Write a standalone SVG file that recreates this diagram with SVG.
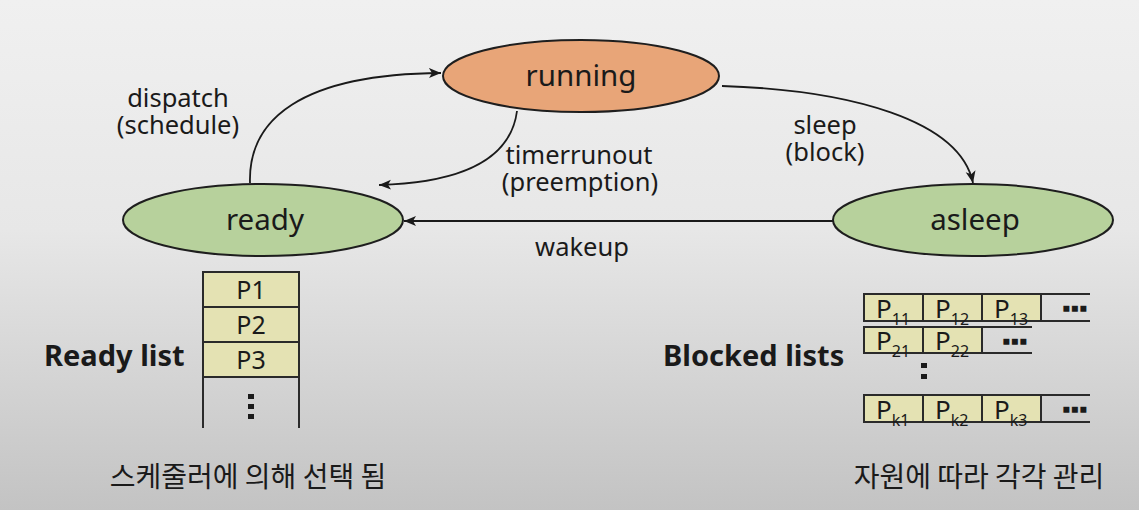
<svg xmlns="http://www.w3.org/2000/svg" width="1139" height="510" viewBox="0 0 1139 510">
<defs>
<linearGradient id="bg" x1="0" y1="0" x2="0" y2="1">
<stop offset="0" stop-color="#f0f0f0"/>
<stop offset="0.45" stop-color="#e7e7e7"/>
<stop offset="1" stop-color="#c3c3c3"/>
</linearGradient>
<marker id="arr" markerUnits="userSpaceOnUse" markerWidth="14" markerHeight="12" refX="12" refY="6" orient="auto">
<path d="M0,1 L12,6 L0,11 L3,6 z" fill="#1a1a1a"/>
</marker>
</defs>
<style>
.lat{font-family:"Noto Sans","Open Sans","Liberation Sans",sans-serif;fill:#1a1a1a}
.kr{font-family:"Noto Sans CJK KR","Noto Sans",sans-serif;fill:#1a1a1a;font-size:28px}
.st{font-size:29.5px}
.lb{font-size:25.5px}
.bd{font-size:29px;font-weight:bold}
.ell{stroke:#1e1e1e;stroke-width:2}
.green{fill:#b7d19c}
.orange{fill:#e8a578}
.conn{fill:none;stroke:#1a1a1a;stroke-width:1.8;marker-end:url(#arr)}
.cell{fill:#e4e2b3;stroke:#2a2a2a;stroke-width:2}
.ln{stroke:#2a2a2a;stroke-width:2;fill:none}
.pc{font-size:25px}
.pb{font-size:26px}
.sub{font-size:16px}
.dots{font-size:24px;font-weight:bold}
</style>
<rect width="1139" height="510" fill="url(#bg)"/>

<g id="connectors">
<path class="conn" d="M250,183 C248,120 300,74 441,73"/>
<path class="conn" d="M517,111 C510,165 450,183 379,185"/>
<path class="conn" d="M722,86 C850,90 960,120 973,183"/>
<path class="conn" d="M833,221 L404,221"/>
</g>

<g id="running">
<ellipse class="ell orange" cx="581" cy="76" rx="138" ry="36"/>
<text class="lat st" x="581" y="86" text-anchor="middle">running</text>
</g>
<g id="ready">
<ellipse class="ell green" cx="263" cy="220" rx="140" ry="36"/>
<text class="lat st" x="265" y="230" text-anchor="middle">ready</text>
</g>
<g id="asleep">
<ellipse class="ell green" cx="973" cy="220" rx="140" ry="36"/>
<text class="lat st" x="975" y="230" text-anchor="middle">asleep</text>
</g>

<g id="labels">
<text class="lat lb" x="178" y="107" text-anchor="middle">dispatch</text>
<text class="lat lb" x="178" y="134" text-anchor="middle">(schedule)</text>
<text class="lat lb" x="579" y="164" text-anchor="middle">timerrunout</text>
<text class="lat lb" x="580" y="191" text-anchor="middle">(preemption)</text>
<text class="lat lb" x="825" y="134" text-anchor="middle">sleep</text>
<text class="lat lb" x="825" y="161" text-anchor="middle">(block)</text>
<text class="lat lb" x="582" y="256" text-anchor="middle">wakeup</text>
</g>

<g id="ready-list">
<text class="lat bd" x="44" y="366">Ready list</text>
<rect class="cell" x="203" y="272" width="96" height="35"/>
<rect class="cell" x="203" y="307" width="96" height="35"/>
<rect class="cell" x="203" y="342" width="96" height="35"/>
<path class="ln" d="M203,377 V428 M299,377 V428"/>
<text class="lat pc" x="251" y="299" text-anchor="middle">P1</text>
<text class="lat pc" x="251" y="334" text-anchor="middle">P2</text>
<text class="lat pc" x="251" y="369" text-anchor="middle">P3</text>
<rect x="248" y="394" width="6" height="5" fill="#1a1a1a"/>
<rect x="248" y="404" width="6" height="5" fill="#1a1a1a"/>
<rect x="248" y="414" width="6" height="5" fill="#1a1a1a"/>
</g>

<g id="blocked-lists">
<text class="lat bd" x="663" y="366">Blocked lists</text>
<rect class="cell" x="864" y="294" width="59" height="27"/>
<rect class="cell" x="923" y="294" width="59" height="27"/>
<rect class="cell" x="982" y="294" width="59" height="27"/>
<path class="ln" d="M1041,294 H1090 M1041,321 H1090"/>
<text class="lat pb" x="876" y="318">P<tspan class="sub" dy="7">11</tspan></text>
<text class="lat pb" x="935" y="318">P<tspan class="sub" dy="7">12</tspan></text>
<text class="lat pb" x="994" y="318">P<tspan class="sub" dy="7">13</tspan></text>
<text class="lat dots" x="1075" y="316" text-anchor="middle">▪▪▪</text>
<rect class="cell" x="864" y="327" width="59" height="26"/>
<rect class="cell" x="923" y="327" width="59" height="26"/>
<path class="ln" d="M982,327 H1032 M982,353 H1032"/>
<text class="lat pb" x="876" y="350">P<tspan class="sub" dy="7">21</tspan></text>
<text class="lat pb" x="935" y="350">P<tspan class="sub" dy="7">22</tspan></text>
<text class="lat dots" x="1015" y="349" text-anchor="middle">▪▪▪</text>
<rect x="921" y="363" width="6" height="5" fill="#1a1a1a"/>
<rect x="921" y="374" width="6" height="5" fill="#1a1a1a"/>
<rect class="cell" x="864" y="395" width="59" height="27"/>
<rect class="cell" x="923" y="395" width="59" height="27"/>
<rect class="cell" x="982" y="395" width="59" height="27"/>
<path class="ln" d="M1041,395 H1090 M1041,422 H1090"/>
<text class="lat pb" x="876" y="419">P<tspan class="sub" dy="7">k1</tspan></text>
<text class="lat pb" x="935" y="419">P<tspan class="sub" dy="7">k2</tspan></text>
<text class="lat pb" x="994" y="419">P<tspan class="sub" dy="7">k3</tspan></text>
<text class="lat dots" x="1075" y="417" text-anchor="middle">▪▪▪</text>
</g>

<g id="captions">
<text class="kr" x="248" y="487" text-anchor="middle">스케줄러에 의해 선택 됨</text>
<text class="kr" x="979" y="487" text-anchor="middle">자원에 따라 각각 관리</text>
</g>
</svg>
